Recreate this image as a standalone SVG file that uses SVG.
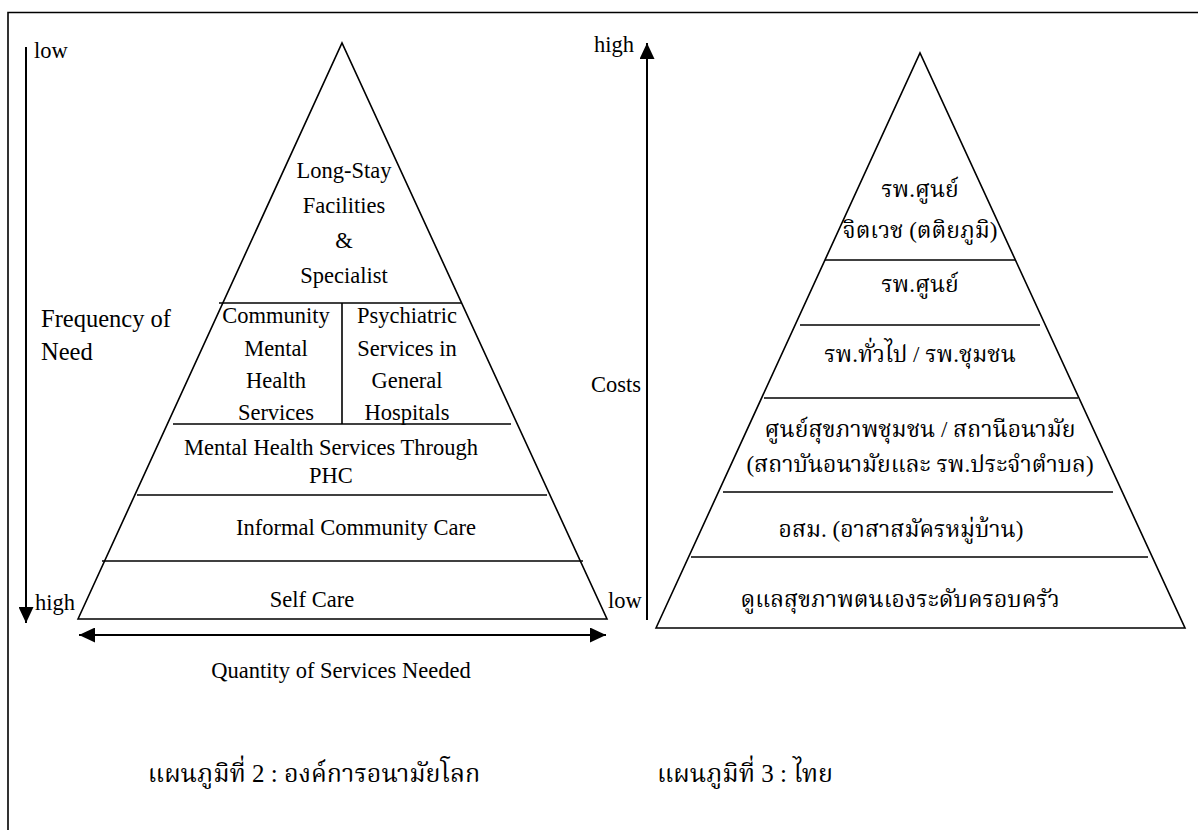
<svg xmlns="http://www.w3.org/2000/svg" width="1198" height="830" viewBox="0 0 1198 830">
<style>
.ln{stroke:#000;stroke-width:1.6;fill:none}
.ax{stroke:#000;stroke-width:2;fill:none}
.t{font-family:"Liberation Serif","Times New Roman",serif;font-size:22.5px;fill:#000;text-anchor:middle}
.ts{font-family:"Liberation Serif","Noto Serif Thai","Noto Sans Thai",serif;font-size:23px;fill:#000;text-anchor:middle}
.cap{font-family:"Liberation Serif","Noto Serif Thai","Noto Sans Thai",serif;font-size:25px;fill:#000;text-anchor:middle}
.l{text-anchor:start}
.e{text-anchor:end}
</style>
<defs>
<marker id="ah" viewBox="0 0 16 15" refX="16" refY="7.5" markerWidth="16" markerHeight="15" markerUnits="userSpaceOnUse" orient="auto-start-reverse">
<path d="M0,0 L16,7.5 L0,15 z" fill="#000"/>
</marker>
</defs>
<rect width="1198" height="830" fill="#fff"/>
<g id="frame">
<path d="M8,830 L8,12.5 L1198,12.5" class="ln" stroke-width="2"/>
</g>

<g id="who-pyramid">
<path d="M78,619 L342,43 L607,619 Z" class="ln"/>
<g id="who-longstay">
<text class="t" x="344" y="178">Long-Stay</text>
<text class="t" x="344" y="213">Facilities</text>
<text class="t" x="344" y="248">&amp;</text>
<text class="t" x="344" y="283">Specialist</text>
</g>
<g id="who-community">
<line x1="219" y1="303" x2="462" y2="303" class="ln"/>
<line x1="342" y1="303" x2="342" y2="424" class="ln"/>
<text class="t" x="276" y="323">Community</text>
<text class="t" x="276" y="356">Mental</text>
<text class="t" x="276" y="388">Health</text>
<text class="t" x="276" y="420">Services</text>
</g>
<g id="who-psychiatric">
<text class="t" x="407" y="323">Psychiatric</text>
<text class="t" x="407" y="356">Services in</text>
<text class="t" x="407" y="388">General</text>
<text class="t" x="407" y="420">Hospitals</text>
</g>
<g id="who-phc">
<line x1="173" y1="424" x2="511" y2="424" class="ln"/>
<text class="t" x="331" y="455">Mental Health Services Through</text>
<text class="t" x="331" y="483">PHC</text>
</g>
<g id="who-informal">
<line x1="137" y1="495" x2="547" y2="495" class="ln"/>
<text class="t" x="356" y="535">Informal Community Care</text>
</g>
<g id="who-selfcare">
<line x1="102" y1="561" x2="583" y2="561" class="ln"/>
<text class="t" x="312" y="607">Self Care</text>
</g>
</g>

<g id="thai-pyramid">
<path d="M656,628 L920,53 L1185,628 Z" class="ln"/>
<g id="th-psych">
<text class="ts" x="920" y="197">รพ.ศูนย์</text>
<text class="ts" x="920" y="238">จิตเวช (ตติยภูมิ)</text>
</g>
<g id="th-center">
<line x1="825" y1="260" x2="1015" y2="260" class="ln"/>
<text class="ts" x="920" y="292">รพ.ศูนย์</text>
</g>
<g id="th-general">
<line x1="800" y1="325" x2="1040" y2="325" class="ln"/>
<text class="ts" x="920" y="362">รพ.ทั่วไป / รพ.ชุมชน</text>
</g>
<g id="th-phc">
<line x1="764" y1="398" x2="1078" y2="398" class="ln"/>
<text class="ts" x="920" y="437">ศูนย์สุขภาพชุมชน / สถานีอนามัย</text>
<text class="ts" x="920" y="472">(สถาบันอนามัยและ รพ.ประจำตำบล)</text>
</g>
<g id="th-volunteer">
<line x1="723" y1="492" x2="1113" y2="492" class="ln"/>
<text class="ts" x="901" y="537">อสม. (อาสาสมัครหมู่บ้าน)</text>
</g>
<g id="th-self">
<line x1="691" y1="557" x2="1148" y2="557" class="ln"/>
<text class="ts" x="900" y="607">ดูแลสุขภาพตนเองระดับครอบครัว</text>
</g>
</g>

<g id="connectors">
<line x1="26" y1="47" x2="26" y2="623" class="ax" marker-end="url(#ah)"/>
<line x1="79" y1="635" x2="606" y2="635" class="ax" marker-start="url(#ah)" marker-end="url(#ah)"/>
<line x1="647" y1="620" x2="647" y2="43" class="ax" marker-end="url(#ah)"/>
</g>

<g id="axis-labels">
<text class="t l" x="34" y="58">low</text>
<text class="t l" x="35" y="610">high</text>
<text class="t l" x="41" y="327" style="font-size:24.5px">Frequency of</text>
<text class="t l" x="41" y="360" style="font-size:24.5px">Need</text>
<text class="t" x="341" y="678">Quantity of Services Needed</text>
<text class="t l" x="608" y="608">low</text>
<text class="t e" x="634" y="52">high</text>
<text class="t e" x="641" y="392">Costs</text>
</g>

<g id="captions">
<text class="cap" x="314" y="782">แผนภูมิที่ 2 : องค์การอนามัยโลก</text>
<text class="cap" x="745" y="782">แผนภูมิที่ 3 : ไทย</text>
</g>
</svg>
